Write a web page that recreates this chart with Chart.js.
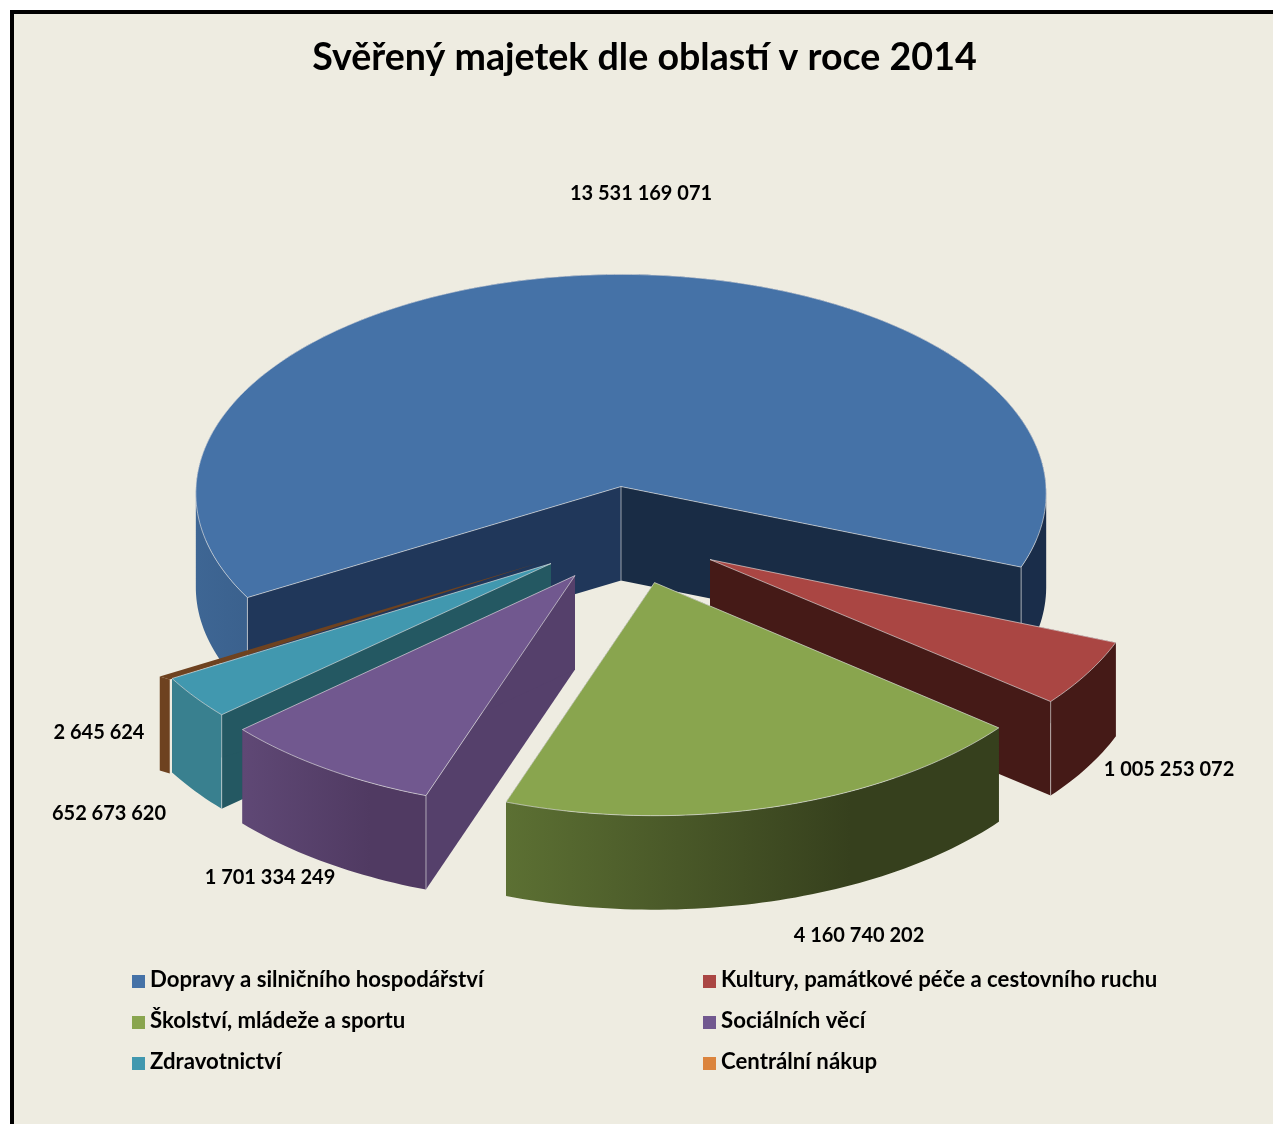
<!DOCTYPE html>
<html lang="cs">
<head>
<meta charset="utf-8">
<title>Svěřený majetek dle oblastí v roce 2014</title>
<script src="https://cdn.jsdelivr.net/npm/chart.js@4"></script>
<style>
  html, body { margin: 0; padding: 0; background: #fff; }
  #frame { position: absolute; left: 10px; top: 10px; width: 1263px; height: 1114px; box-sizing: border-box;
           background: #eeece1; border-left: 4px solid #000; border-top: 4px solid #000; }
  #myChart { position: absolute; left: 16px; top: 14px; }
</style>
</head>
<body>
<div id="frame"></div>
<canvas id="myChart" width="1257" height="1110"></canvas>
<script>
const chart_title = 'Svěřený majetek dle oblastí v roce 2014';
const categories = [
    'Dopravy a silničního hospodářství',
    'Kultury, památkové péče a cestovního ruchu',
    'Školství, mládeže a sportu',
    'Sociálních věcí',
    'Zdravotnictví',
    'Centrální nákup'
];
const values = [13531169071, 1005253072, 4160740202, 1701334249, 652673620, 2645624];

// colours: legend/top face, cut walls, outer rim (left -> right)
const top_colors = ['#4572a7', '#aa4643', '#89a54e', '#71588f', '#4198af', '#db843d'];
const first_wall_colors = ['#20375a', '#451a17', '#36401d', '#55406b', '#245862', '#6e4220'];
const last_wall_colors = ['#192c45', '#451a17', '#36401d', '#55406b', '#245862', '#6e4220'];
const rim_left = ['#3e6694', '#451a17', '#5c7033', '#5f4875', '#39808f', '#6e4220'];
const rim_right = ['#1a2d4a', '#451a17', '#36401d', '#503a62', '#39808f', '#6e4220'];

// how each slice is seen: moved out of the pie and tilted (dx, dy, scale x, scale y, perspective)
const slice_views = [
    [0, 0, 1, 0.5146, 0.03],
    [89, 73, 1.025, 0.536, 0],
    [33.5, 96, 1.036, 0.5485, 0],
    [-46, 89, 1.04, 0.55, 0],
    [-70, 77, 1.03, 0.54, 0],
    [-81, 76, 1.02, 0.54, 0]
];
const pie_shift = -23.5; // title is centred on the page, the pie sits a bit left of it
const pie_depth = 94;
const sliver_width = 10; // the last slice is too thin to show, Excel still gives it a face

// page text positions, offset from the pie centre
const value_label_pos = [[20, -293], [548, 283], [238, 449], [-351, 391], [-512, 327], [-522, 246]];
const legend_x = [116, 687];
const legend_y = [966, 1007, 1048];
const legend_order = [[0, 2, 4], [1, 3, 5]];

function formatValue(v){
    return String(v).replace(/\B(?=(\d{3})+$)/g, ' ');
}

function project(arc, view, angle, r){
    const X = r * Math.cos(angle);
    const Y = r * Math.sin(angle);
    const k = 1 + view[4] * Y / arc.outerRadius;
    return [arc.x + pie_shift + view[0] + view[2] * X * k, arc.y + view[1] + view[3] * Y * k];
}

function arcPoints(arc, view){
    const pts = [];
    const n = Math.max(1, Math.ceil((arc.endAngle - arc.startAngle) / 0.02));
    for(let i = 0; i <= n; i += 1){
        const a = arc.startAngle + (arc.endAngle - arc.startAngle) * i / n;
        pts.push(project(arc, view, a, arc.outerRadius));
    }
    return pts;
}

function addPoly(ctx, pts){
    pts.forEach(function(p, i){ i ? ctx.lineTo(p[0], p[1]) : ctx.moveTo(p[0], p[1]); });
    ctx.closePath();
}

function fillPoly(ctx, pts, color){
    ctx.beginPath();
    addPoly(ctx, pts);
    ctx.fillStyle = color;
    ctx.fill();
}

function edge(ctx, p, q){
    ctx.beginPath();
    ctx.moveTo(p[0], p[1]);
    ctx.lineTo(q[0], q[1]);
    ctx.stroke();
}

function drawSlice(ctx, chart, i){
    const arc = chart.getDatasetMeta(0).data[i].getProps(['x', 'y', 'startAngle', 'endAngle', 'outerRadius'], true);
    const view = slice_views[i];
    const apex = project(arc, view, 0, 0);
    const rim = arcPoints(arc, view);
    const down = function(p){ return [p[0], p[1] + pie_depth]; };
    const first = rim[0];
    const last = rim[rim.length - 1];

    ctx.lineJoin = 'round';
    if(i === values.length - 1){
        // sliver: only a wedge on top and a narrow face at the rim
        const half = sliver_width / 2;
        const a = [first[0] - half, first[1] - 1];
        const b = [first[0] + half, first[1] + 2];
        fillPoly(ctx, [apex, a, b], first_wall_colors[i]);
        fillPoly(ctx, [a, b, down(b), down(a)], first_wall_colors[i]);
        return;
    }

    // cut walls
    fillPoly(ctx, [apex, first, down(first), down(apex)], first_wall_colors[i]);
    fillPoly(ctx, [apex, last, down(last), down(apex)], last_wall_colors[i]);

    // outer rim, piece by piece so the sides of the ellipse get filled too
    const xs = rim.map(function(p){ return p[0]; });
    const grad = ctx.createLinearGradient(Math.min.apply(null, xs), 0, Math.max.apply(null, xs), 0);
    grad.addColorStop(0, rim_left[i]);
    grad.addColorStop(0.7, rim_right[i]);
    grad.addColorStop(1, rim_right[i]);
    ctx.beginPath();
    for(let n = 0; n < rim.length - 1; n += 1){
        const quad = [rim[n], rim[n + 1], down(rim[n + 1]), down(rim[n])];
        const area = (quad[1][0] - quad[0][0]) * pie_depth;
        addPoly(ctx, area < 0 ? quad.reverse() : quad);
    }
    ctx.fillStyle = grad;
    ctx.fill();

    // top face and the thin light edges
    const face = [apex].concat(rim);
    fillPoly(ctx, face, top_colors[i]);
    ctx.strokeStyle = 'rgba(225,225,225,0.65)';
    ctx.lineWidth = 1;
    ctx.beginPath();
    addPoly(ctx, face);
    ctx.stroke();

    // a cut wall faces us only if going down leaves the slice
    const first_seen = Math.cos(arc.startAngle) < 0;
    const last_seen = Math.cos(arc.endAngle) > 0;
    if(first_seen) edge(ctx, first, down(first));
    if(last_seen) edge(ctx, last, down(last));
    if(first_seen && last_seen) edge(ctx, apex, down(apex));
}

const pie3d = {
    id: 'pie3d',
    beforeDatasetsDraw(chart){
        const ctx = chart.ctx;
        ctx.save();
        // back to front, the exploded ones in the end
        [0, 5, 4, 3, 1, 2].forEach(function(i){ drawSlice(ctx, chart, i); });
        ctx.restore();
        return false;
    },
    afterDraw(chart){
        const ctx = chart.ctx;
        const arc = chart.getDatasetMeta(0).data[0];
        ctx.save();
        ctx.fillStyle = '#000';
        ctx.textBaseline = 'middle';
        ctx.font = 'bold 20px Lato';
        ctx.textAlign = 'center';
        values.forEach(function(v, i){
            ctx.fillText(formatValue(v), arc.x + pie_shift + value_label_pos[i][0], arc.y + value_label_pos[i][1]);
        });
        ctx.textAlign = 'left';
        ctx.font = 'bold 22.2px Lato';
        legend_order.forEach(function(column, c){
            column.forEach(function(i, row){
                ctx.fillStyle = top_colors[i];
                ctx.fillRect(legend_x[c], legend_y[row] - 5, 13, 13);
                ctx.fillStyle = '#000';
                ctx.fillText(categories[i], legend_x[c] + 18, legend_y[row]);
            });
        });
        ctx.restore();
    }
};

const myChart = new Chart(document.getElementById('myChart').getContext('2d'), {
    type: 'pie',
    data: {
        labels: categories,
        datasets: [{ data: values, backgroundColor: top_colors }]
    },
    options: {
        responsive: false,
        animation: false,
        rotation: 240,
        radius: 425,
        layout: { padding: { bottom: 231 } },
        plugins: {
            legend: { display: false },
            tooltip: { enabled: false },
            title: {
                display: true,
                text: chart_title,
                color: '#000',
                font: { family: 'Lato', size: 37.6, weight: 'bold' },
                padding: { top: 21, bottom: 0 }
            }
        }
    },
    plugins: [pie3d]
});
</script>
</body>
</html>
